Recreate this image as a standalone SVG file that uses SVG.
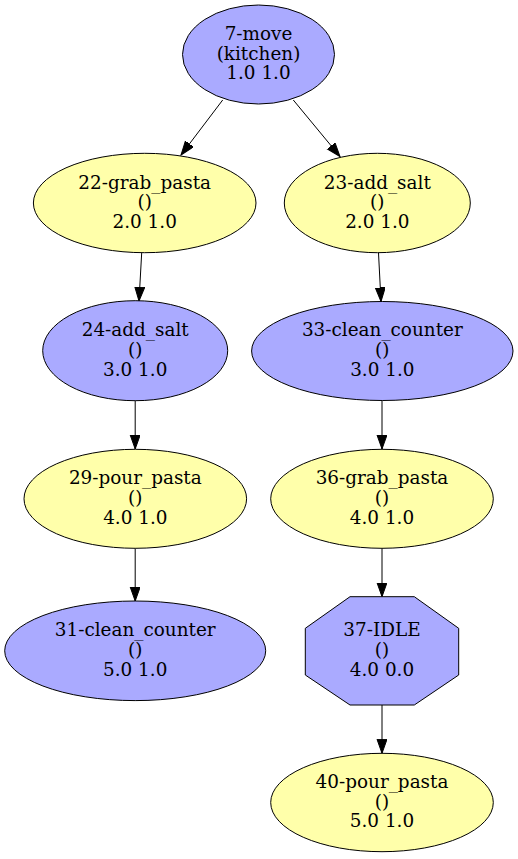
<svg xmlns="http://www.w3.org/2000/svg" width="518" height="859" viewBox="0 0 518 859">
<defs>
<style>
.blue{fill:#aaaaff;stroke:#000;stroke-width:1}
.yellow{fill:#ffffaa;stroke:#000;stroke-width:1}
text{font-family:"DejaVu Serif","Liberation Serif",serif;font-size:18.4px;text-anchor:middle;fill:#000}
.edge{stroke:#000;stroke-width:1;fill:none;marker-end:url(#arr)}
</style>
<marker id="arr" markerUnits="userSpaceOnUse" markerWidth="15" markerHeight="11" refX="14" refY="5" orient="auto" viewBox="0 0 15 11">
<path d="M0,0 L14,5 L0,10 z" fill="#000" stroke="#000" stroke-width="1"/>
</marker>
</defs>
<rect width="518" height="859" fill="#fff"/>
<g id="edges">
<line class="edge" x1="222.7" y1="100" x2="181" y2="155"/>
<line class="edge" x1="293.3" y1="100" x2="340" y2="156.5"/>
<line class="edge" x1="141.7" y1="252.7" x2="139" y2="301"/>
<line class="edge" x1="378.5" y1="252.7" x2="381" y2="301.5"/>
<line class="edge" x1="135.2" y1="400.7" x2="135.2" y2="449"/>
<line class="edge" x1="382" y1="400.5" x2="382" y2="449"/>
<line class="edge" x1="135.2" y1="548.3" x2="135.2" y2="601"/>
<line class="edge" x1="382" y1="548.3" x2="382" y2="596.7"/>
<line class="edge" x1="382" y1="705" x2="382" y2="753.3"/>
</g>
<g id="n7">
<ellipse class="blue" cx="258.5" cy="54.5" rx="76" ry="49.5"/>
<text x="258.5" y="40">7-move</text>
<text x="258.5" y="59.5">(kitchen)</text>
<text x="258.5" y="79">1.0 1.0</text>
</g>
<g id="n22">
<ellipse class="yellow" cx="144.7" cy="203" rx="111.3" ry="49.7"/>
<text x="144.7" y="188.5">22-grab_pasta</text>
<text x="144.7" y="208">()</text>
<text x="144.7" y="227.5">2.0 1.0</text>
</g>
<g id="n23">
<ellipse class="yellow" cx="377.3" cy="203" rx="93" ry="49.7"/>
<text x="377.3" y="188.5">23-add_salt</text>
<text x="377.3" y="208">()</text>
<text x="377.3" y="227.5">2.0 1.0</text>
</g>
<g id="n24">
<ellipse class="blue" cx="135.2" cy="350.7" rx="92.5" ry="50"/>
<text x="135.2" y="336">24-add_salt</text>
<text x="135.2" y="355.7">()</text>
<text x="135.2" y="375.5">3.0 1.0</text>
</g>
<g id="n33">
<ellipse class="blue" cx="382.3" cy="351" rx="130.7" ry="49.5"/>
<text x="382.3" y="336">33-clean_counter</text>
<text x="382.3" y="355.7">()</text>
<text x="382.3" y="375.5">3.0 1.0</text>
</g>
<g id="n29">
<ellipse class="yellow" cx="135.3" cy="498.8" rx="111.3" ry="49.5"/>
<text x="135.3" y="484.3">29-pour_pasta</text>
<text x="135.3" y="503.8">()</text>
<text x="135.3" y="523.5">4.0 1.0</text>
</g>
<g id="n36">
<ellipse class="yellow" cx="382" cy="498.8" rx="111.3" ry="49.5"/>
<text x="382" y="484.3">36-grab_pasta</text>
<text x="382" y="503.8">()</text>
<text x="382" y="523.5">4.0 1.0</text>
</g>
<g id="n31">
<ellipse class="blue" cx="135.2" cy="650.8" rx="130.5" ry="49.8"/>
<text x="135.2" y="636">31-clean_counter</text>
<text x="135.2" y="655.8">()</text>
<text x="135.2" y="675.5">5.0 1.0</text>
</g>
<g id="n37">
<polygon class="blue" points="350,596.7 414.3,596.7 458.7,628.3 458.7,675 414.3,705 350,705 305.3,675 305.3,628.3"/>
<text x="382" y="636">37-IDLE</text>
<text x="382" y="655.8">()</text>
<text x="382" y="675.5">4.0 0.0</text>
</g>
<g id="n40">
<ellipse class="yellow" cx="382" cy="802.5" rx="111.3" ry="49.2"/>
<text x="382" y="788">40-pour_pasta</text>
<text x="382" y="807.5">()</text>
<text x="382" y="827.2">5.0 1.0</text>
</g>
</svg>
